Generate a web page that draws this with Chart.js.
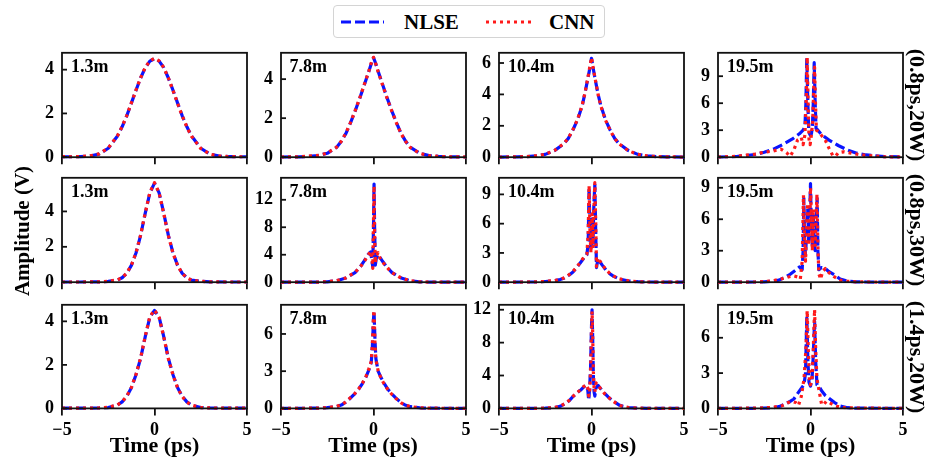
<!DOCTYPE html>
<html><head><meta charset="utf-8">
<script src="https://cdn.jsdelivr.net/npm/chart.js@4.4.1/dist/chart.umd.min.js"></script>
<style>
body{margin:0;background:#fff;width:926px;height:459px;overflow:hidden;position:relative;font-family:'Liberation Serif','Times New Roman',serif;}
#charts{position:absolute;left:0;top:0;width:926px;height:459px;}
.wrap{position:absolute;}
.t{position:absolute;font-weight:bold;color:#000;white-space:nowrap;line-height:1;z-index:5;}
#legend{position:absolute;left:333px;top:5px;width:270px;height:31px;border:1.5px solid #d4d4d4;border-radius:4px;background:#fff;z-index:5;}
</style></head><body>
<div id="charts"></div>
<div id="legend">
<svg width="270" height="31" style="position:absolute;left:0;top:0">
<line x1="7" y1="16" x2="50" y2="16" stroke="#0a14ff" stroke-width="3" stroke-dasharray="10,4"/>
<line x1="152" y1="16" x2="198" y2="16" stroke="#ff1a1a" stroke-width="3" stroke-dasharray="3,4"/>
</svg>
<div class="t" style="left:70px;top:6px;font-size:21px;">NLSE</div>
<div class="t" style="left:215px;top:6px;font-size:21px;">CNN</div>
</div>
<div id="texts"></div>
<script>
// ---------------- data ----------------
const DIST_LABELS = ['1.3m', '7.8m', '10.4m', '19.5m'];
const ROW_LABELS = ['(0.8ps,20W)', '(0.8ps,30W)', '(1.4ps,20W)'];
const X_LABEL = 'Time (ps)';
const Y_LABEL = 'Amplitude (V)';
const X_TICKS = [-5, 0, 5];
const Y_MAX = [[4.77, 5.35, 6.65, 11.6], [5.9, 15.2, 10.7, 9.95], [4.76, 8.35, 12.6, 8.8]];
const Y_STEP = [[2, 2, 2, 3], [2, 4, 3, 3], [2, 3, 4, 3]];

// row 1 (0.8ps, 20W)
const T_R1C1 = [-5,-4.5,-4,-3.5,-3,-2.5,-2,-1.75,-1.5,-1.25,-1,-0.75,-0.5,-0.25,0,0.25,0.5,0.75,1,1.25,1.5,1.75,2,2.5,3,3.5,4,4.5,5];
const NLSE_R1C1 = [0.02,0.02,0.03,0.05,0.14,0.41,0.97,1.39,1.89,2.47,3.06,3.62,4.09,4.39,4.5,4.39,4.09,3.62,3.06,2.47,1.89,1.39,0.97,0.41,0.14,0.05,0.03,0.02,0.02];
const CNN_R1C1 = [0.03,0.02,0.03,0.06,0.15,0.42,0.98,1.40,1.90,2.48,3.07,3.63,4.10,4.40,4.52,4.40,4.10,3.62,3.05,2.46,1.88,1.38,0.96,0.40,0.14,0.05,0.03,0.02,0.02];

const T_R1C2 = [-5,-4,-3.5,-3,-2.5,-2,-1.75,-1.5,-1.25,-1,-0.75,-0.5,-0.25,-0.1,0,0.1,0.25,0.5,0.75,1,1.25,1.5,1.75,2,2.5,3,3.5,4,5];
const NLSE_R1C2 = [0.01,0.02,0.04,0.08,0.2,0.5,0.8,1.2,1.75,2.35,3.0,3.7,4.4,4.85,5.1,4.85,4.4,3.7,3.0,2.35,1.75,1.2,0.8,0.5,0.2,0.08,0.04,0.02,0.01];
const CNN_R1C2 = [0.01,0.02,0.05,0.09,0.21,0.51,0.81,1.22,1.76,2.36,3.02,3.72,4.42,4.9,5.12,4.86,4.38,3.68,2.98,2.33,1.73,1.19,0.79,0.49,0.2,0.08,0.04,0.02,0.01];

const T_R1C3 = [-5,-4,-3.5,-3,-2.5,-2,-1.5,-1.25,-1,-0.75,-0.5,-0.35,-0.2,-0.1,0,0.1,0.2,0.35,0.5,0.75,1,1.25,1.5,2,2.5,3,3.5,4,5];
const NLSE_R1C3 = [0.01,0.02,0.04,0.08,0.18,0.42,0.85,1.2,1.75,2.4,3.3,4.1,5.0,5.6,6.3,5.6,4.95,4.05,3.3,2.4,1.75,1.2,0.85,0.42,0.18,0.08,0.04,0.02,0.01];
const CNN_R1C3 = [0.01,0.02,0.04,0.09,0.19,0.43,0.86,1.22,1.77,2.42,3.32,4.12,5.05,5.7,6.35,5.65,4.98,4.03,3.28,2.38,1.73,1.19,0.84,0.41,0.18,0.08,0.04,0.02,0.01];

const T_R1C4 = [-5,-4,-3,-2.5,-2,-1.5,-1,-0.6,-0.4,-0.3,-0.25,-0.2,-0.15,-0.1,-0.05,0,0.05,0.1,0.15,0.2,0.25,0.3,0.4,0.6,1,1.5,2,2.5,3,4,5];
const NLSE_R1C4 = [0.02,0.08,0.3,0.55,0.9,1.4,2.0,2.6,3.0,3.4,6.0,11.0,6.5,3.2,2.6,2.4,2.6,3.3,6.0,10.5,6.2,3.2,3.0,2.5,1.9,1.3,0.8,0.45,0.25,0.07,0.02];
const CNN_T_R1C4 = [-5,-4,-3,-2.5,-2,-1.6,-1.3,-1.1,-0.9,-0.7,-0.5,-0.4,-0.3,-0.22,-0.18,-0.13,-0.08,-0.02,0.05,0.12,0.18,0.22,0.27,0.32,0.45,0.6,0.8,1.0,1.2,1.35,1.5,1.8,2.2,2.6,3,4,5];
const CNN_R1C4 = [0.02,0.1,0.35,0.55,0.7,0.9,0.5,0.1,0.8,1.9,2.2,1.4,2.5,7.0,11.1,6.0,2.0,1.4,2.5,4.0,8.0,10.0,6.0,3.0,2.8,2.4,1.9,1.0,0.2,0.1,0.5,0.6,0.45,0.3,0.2,0.05,0.02];

// row 2 (0.8ps, 30W)
const T_R2C1 = [-5,-4,-3,-2.5,-2,-1.75,-1.5,-1.25,-1,-0.75,-0.5,-0.25,0,0.25,0.5,0.75,1,1.25,1.5,1.75,2,2.5,3,4,5];
const NLSE_R2C1 = [0.01,0.01,0.02,0.05,0.12,0.25,0.5,0.95,1.65,2.65,3.9,5.05,5.6,5.05,3.9,2.65,1.65,0.95,0.5,0.25,0.12,0.05,0.02,0.01,0.01];
const CNN_R2C1 = [0.01,0.01,0.02,0.05,0.13,0.26,0.51,0.96,1.66,2.67,3.92,5.08,5.62,5.04,3.88,2.63,1.63,0.94,0.49,0.25,0.12,0.05,0.02,0.01,0.01];

const T_R2C2 = [-5,-3,-2.5,-2,-1.5,-1,-0.7,-0.5,-0.3,-0.15,-0.08,-0.04,0,0.03,0.06,0.1,0.15,0.25,0.35,0.5,0.7,1,1.5,2,2.5,3,5];
const NLSE_R2C2 = [0,0.02,0.06,0.2,0.6,1.4,2.3,3.1,4.0,4.4,3.0,2.3,8,14.3,8,2.5,3.5,4.0,3.6,3.0,2.3,1.4,0.6,0.2,0.06,0.02,0];
const CNN_R2C2 = [0,0.02,0.07,0.22,0.62,1.42,2.3,3.0,3.9,4.5,3.4,2.0,9,14.0,7,2.8,3.8,4.3,3.5,2.9,2.25,1.38,0.6,0.2,0.06,0.02,0];

const T_R2C3 = [-5,-3,-2.5,-2,-1.7,-1.5,-1.2,-1,-0.8,-0.6,-0.4,-0.25,-0.18,-0.13,-0.08,-0.03,0.03,0.08,0.13,0.18,0.23,0.27,0.35,0.45,0.6,0.8,1,1.2,1.5,2,2.5,3,5];
const NLSE_R2C3 = [0,0.03,0.07,0.15,0.27,0.4,0.75,1.05,1.5,2.0,2.5,2.8,4,9.7,4,3.5,6.5,4,8,10.0,5,1.5,2.4,2.1,1.7,1.2,0.85,0.6,0.33,0.12,0.05,0.02,0];
const CNN_R2C3 = [0,0.03,0.08,0.16,0.28,0.42,0.78,1.1,1.55,2.05,2.6,2.9,5,9.9,5,3,7,3.5,7.5,10.2,6,1.6,2.5,2.2,1.75,1.25,0.88,0.62,0.35,0.13,0.05,0.02,0];

const T_R2C4 = [-5,-3,-2.5,-2,-1.7,-1.4,-1.1,-0.8,-0.6,-0.45,-0.4,-0.36,-0.32,-0.27,-0.2,-0.15,-0.1,-0.05,0,0.05,0.1,0.15,0.2,0.25,0.3,0.36,0.4,0.45,0.6,0.8,1,1.3,1.6,2,2.5,3,5];
const NLSE_R2C4 = [0,0.02,0.04,0.1,0.2,0.45,0.75,1.15,1.45,1.2,3,8.0,4,2.5,5,7,4,6,9.4,5,3.5,6.5,4,3,5,8.0,3,1.2,1.4,1.3,1.0,0.7,0.3,0.1,0.04,0.02,0];
const CNN_T_R2C4 = [-5,-3,-2.5,-2,-1.6,-1.2,-0.9,-0.7,-0.55,-0.45,-0.38,-0.33,-0.27,-0.2,-0.15,-0.1,-0.05,0,0.05,0.1,0.15,0.2,0.25,0.3,0.35,0.4,0.45,0.55,0.65,0.8,1,1.3,1.6,2,2.5,5];
const CNN_R2C4 = [0,0.02,0.05,0.15,0.3,0.5,0.6,0.5,0.3,2,8.3,4.5,2,6,7.5,3.5,5.5,9.0,6,3,7,4.5,3.5,6,8.4,3.5,0.8,0.3,1.0,1.3,0.9,0.5,0.2,0.08,0.03,0];

// row 3 (1.4ps, 20W)
const T_R3C1 = [-5,-4,-3,-2.5,-2,-1.75,-1.5,-1.25,-1,-0.75,-0.5,-0.25,0,0.25,0.5,0.75,1,1.25,1.5,1.75,2,2.5,3,4,5];
const NLSE_R3C1 = [0.01,0.01,0.02,0.04,0.15,0.3,0.55,0.95,1.55,2.3,3.3,4.2,4.5,4.2,3.3,2.3,1.55,0.95,0.55,0.3,0.15,0.04,0.02,0.01,0.01];
const CNN_R3C1 = [0.01,0.01,0.02,0.05,0.16,0.31,0.56,0.96,1.57,2.32,3.32,4.22,4.52,4.18,3.28,2.28,1.53,0.94,0.54,0.29,0.15,0.04,0.02,0.01,0.01];

const T_R3C2 = [-5,-3,-2.5,-2,-1.7,-1.5,-1.2,-1,-0.8,-0.6,-0.4,-0.25,-0.12,-0.06,0,0.03,0.08,0.13,0.25,0.4,0.6,0.8,1,1.2,1.5,1.7,2,2.5,3,5];
const NLSE_R3C2 = [0,0.02,0.06,0.15,0.3,0.5,0.9,1.2,1.55,2.0,2.55,3.1,3.7,5.0,7.2,7.8,5.5,4.0,3.0,2.5,1.95,1.5,1.15,0.85,0.45,0.28,0.14,0.05,0.02,0];
const CNN_R3C2 = [0,0.02,0.06,0.16,0.31,0.52,0.92,1.22,1.57,2.02,2.6,3.2,3.8,5.3,7.5,7.9,5.2,3.9,3.05,2.45,1.9,1.47,1.12,0.82,0.44,0.27,0.13,0.05,0.02,0];

const T_R3C3 = [-5,-3,-2.5,-2,-1.7,-1.4,-1.2,-1,-0.8,-0.6,-0.4,-0.28,-0.2,-0.15,-0.1,-0.05,0,0.03,0.06,0.1,0.14,0.18,0.25,0.35,0.5,0.7,0.9,1.1,1.3,1.5,1.7,2,2.5,3,5];
const NLSE_R3C3 = [0,0.01,0.03,0.1,0.25,0.6,0.95,1.45,1.85,2.2,2.65,2.8,2.2,1.0,2.5,5,10,12.0,9,4,2.0,1.5,2.5,2.8,2.4,1.85,1.4,1.0,0.7,0.4,0.25,0.1,0.03,0.01,0];
const CNN_R3C3 = [0,0.01,0.03,0.11,0.27,0.62,0.98,1.47,1.88,2.25,2.7,2.9,2.5,1.5,2.0,4.5,9.5,11.8,9.5,4.5,2.5,2.0,3.1,2.9,2.35,1.8,1.38,0.98,0.68,0.38,0.24,0.1,0.03,0.01,0];

const T_R3C4 = [-5,-3,-2.5,-2,-1.7,-1.4,-1.1,-0.9,-0.7,-0.5,-0.35,-0.27,-0.2,-0.14,-0.08,0,0.08,0.15,0.22,0.28,0.35,0.45,0.6,0.8,1,1.3,1.6,2,2.5,5];
const NLSE_R3C4 = [0,0.01,0.02,0.06,0.15,0.35,0.6,0.8,1.25,1.7,2.0,3,7.7,4,2.2,1.9,2.4,4.5,7.4,4,2.0,1.9,1.5,1.1,0.85,0.5,0.2,0.06,0.02,0];
const CNN_T_R3C4 = [-5,-3,-2.5,-2,-1.5,-1.2,-1,-0.8,-0.65,-0.5,-0.35,-0.25,-0.18,-0.12,-0.06,0,0.08,0.15,0.22,0.28,0.35,0.5,0.6,0.7,0.85,1,1.3,1.6,2,5];
const CNN_R3C4 = [0,0.02,0.04,0.1,0.25,0.5,0.6,0.5,0.25,1.0,2.5,5,8.3,5,2.5,2.0,2.5,5,8.4,5,2.5,1.2,0.35,0.3,0.6,0.5,0.25,0.1,0.04,0];

const PANELS = [
  [{t:T_R1C1,n:NLSE_R1C1,tc:T_R1C1,c:CNN_R1C1},{t:T_R1C2,n:NLSE_R1C2,tc:T_R1C2,c:CNN_R1C2},{t:T_R1C3,n:NLSE_R1C3,tc:T_R1C3,c:CNN_R1C3},{t:T_R1C4,n:NLSE_R1C4,tc:CNN_T_R1C4,c:CNN_R1C4}],
  [{t:T_R2C1,n:NLSE_R2C1,tc:T_R2C1,c:CNN_R2C1},{t:T_R2C2,n:NLSE_R2C2,tc:T_R2C2,c:CNN_R2C2},{t:T_R2C3,n:NLSE_R2C3,tc:T_R2C3,c:CNN_R2C3},{t:T_R2C4,n:NLSE_R2C4,tc:CNN_T_R2C4,c:CNN_R2C4}],
  [{t:T_R3C1,n:NLSE_R3C1,tc:T_R3C1,c:CNN_R3C1},{t:T_R3C2,n:NLSE_R3C2,tc:T_R3C2,c:CNN_R3C2},{t:T_R3C3,n:NLSE_R3C3,tc:T_R3C3,c:CNN_R3C3},{t:T_R3C4,n:NLSE_R3C4,tc:CNN_T_R3C4,c:CNN_R3C4}]
];

// ---------------- layout ----------------
const COL_LEFT = [62, 280.5, 499, 718];
const PLOT_W = 185;
const ROW_TOP = [53, 178, 305];
const PLOT_H = 104;
const FONT = 'Liberation Serif';

function pts(t, v) { return t.map((x, i) => ({x: x, y: v[i]})); }
function fmt(v) { return v < 0 ? '\u2212' + (-v) : String(v); }

const boxPlugin = {
  id: 'box',
  afterDatasetsDraw(ch) {
    const a = ch.chartArea, c = ch.ctx;
    c.save();
    c.setLineDash([]);
    c.strokeStyle = '#111';
    c.lineWidth = 1.8;
    c.strokeRect(a.left, a.top, a.right - a.left, a.bottom - a.top);
    const ys = ch.scales.y;
    ys.ticks.forEach(tk => {
      const y = ys.getPixelForValue(tk.value);
      c.beginPath(); c.moveTo(a.left, y); c.lineTo(a.left + 5, y); c.stroke();
    });
    c.restore();
  }
};

function build(wrap, W, H, r, col) {
  wrap.innerHTML = '';
  const cv = document.createElement('canvas');
  cv.width = W; cv.height = H;
  cv.style.width = W + 'px'; cv.style.height = H + 'px';
  wrap.appendChild(cv);
  const p = PANELS[r][col];
  const tickFont = {family: FONT, weight: 'bold', size: 18};
  return new Chart(cv, {
    type: 'line',
    data: {datasets: [
      {label: 'NLSE', data: pts(p.t, p.n), borderColor: '#0a14ff', borderWidth: 3.2, borderDash: [10, 4], borderJoinStyle: 'round', pointRadius: 0, tension: 0, fill: false, order: 1, clip: 8},
      {label: 'CNN', data: pts(p.tc, p.c), borderColor: '#ff1a1a', borderWidth: 3.2, borderDash: [3, 4], borderJoinStyle: 'round', pointRadius: 0, tension: 0, fill: false, order: 0, clip: 8}
    ]},
    options: {
      responsive: false, maintainAspectRatio: false, animation: false, devicePixelRatio: 1, events: [],
      layout: {padding: {left: 0, right: 14, top: 14, bottom: 0}},
      plugins: {legend: {display: false}, tooltip: {enabled: false}},
      scales: {
        x: {type: 'linear', min: -5, max: 5,
            afterBuildTicks: s => { s.ticks = X_TICKS.map(v => ({value: v})); },
            ticks: {display: r === 2, autoSkip: false, maxRotation: 0, padding: 4, color: '#000', font: tickFont, callback: v => fmt(v)},
            grid: {display: true, drawOnChartArea: false, drawTicks: true, tickLength: 7, color: '#111', lineWidth: 1.8},
            border: {display: false}},
        y: {type: 'linear', min: 0, max: Y_MAX[r][col],
            ticks: {stepSize: Y_STEP[r][col], includeBounds: false, padding: 8, color: '#000', font: tickFont, callback: v => fmt(v)},
            grid: {display: false, drawTicks: false},
            border: {display: false}}
      }
    },
    plugins: [boxPlugin]
  });
}

function makePanel(r, col) {
  const wrap = document.createElement('div');
  wrap.className = 'wrap';
  document.getElementById('charts').appendChild(wrap);
  const W = 260, H = (r === 2 ? 160 : 135);
  let ch = build(wrap, W, H, r, col);
  let a = ch.chartArea;
  const W2 = Math.round(W + (PLOT_W - (a.right - a.left)));
  const H2 = Math.round(H + (PLOT_H - (a.bottom - a.top)));
  ch.destroy();
  ch = build(wrap, W2, H2, r, col);
  a = ch.chartArea;
  wrap.style.left = (COL_LEFT[col] - a.left) + 'px';
  wrap.style.top = (ROW_TOP[r] - a.top) + 'px';
}

for (let r = 0; r < 3; r++) for (let c = 0; c < 4; c++) makePanel(r, c);

// ---------------- texts ----------------
const texts = document.getElementById('texts');
function addText(txt, css) {
  const d = document.createElement('div');
  d.className = 't';
  d.textContent = txt;
  Object.assign(d.style, css);
  texts.appendChild(d);
}
for (let r = 0; r < 3; r++) {
  for (let c = 0; c < 4; c++) {
    addText(DIST_LABELS[c], {left: (COL_LEFT[c] + 9) + 'px', top: (ROW_TOP[r] + 13) + 'px', fontSize: '18px', transform: 'translateY(-50%)'});
  }
  addText(ROW_LABELS[r], {left: '917px', top: (ROW_TOP[r] + PLOT_H / 2) + 'px', fontSize: '22px', transform: 'translate(-50%,-50%) rotate(90deg)'});
}
for (let c = 0; c < 4; c++) {
  addText(X_LABEL, {left: (COL_LEFT[c] + PLOT_W / 2) + 'px', top: '445px', fontSize: '22px', transform: 'translate(-50%,-50%)'});
}
addText(Y_LABEL, {left: '22px', top: '231px', fontSize: '21px', transform: 'translate(-50%,-50%) rotate(-90deg)'});
</script>
</body></html>
